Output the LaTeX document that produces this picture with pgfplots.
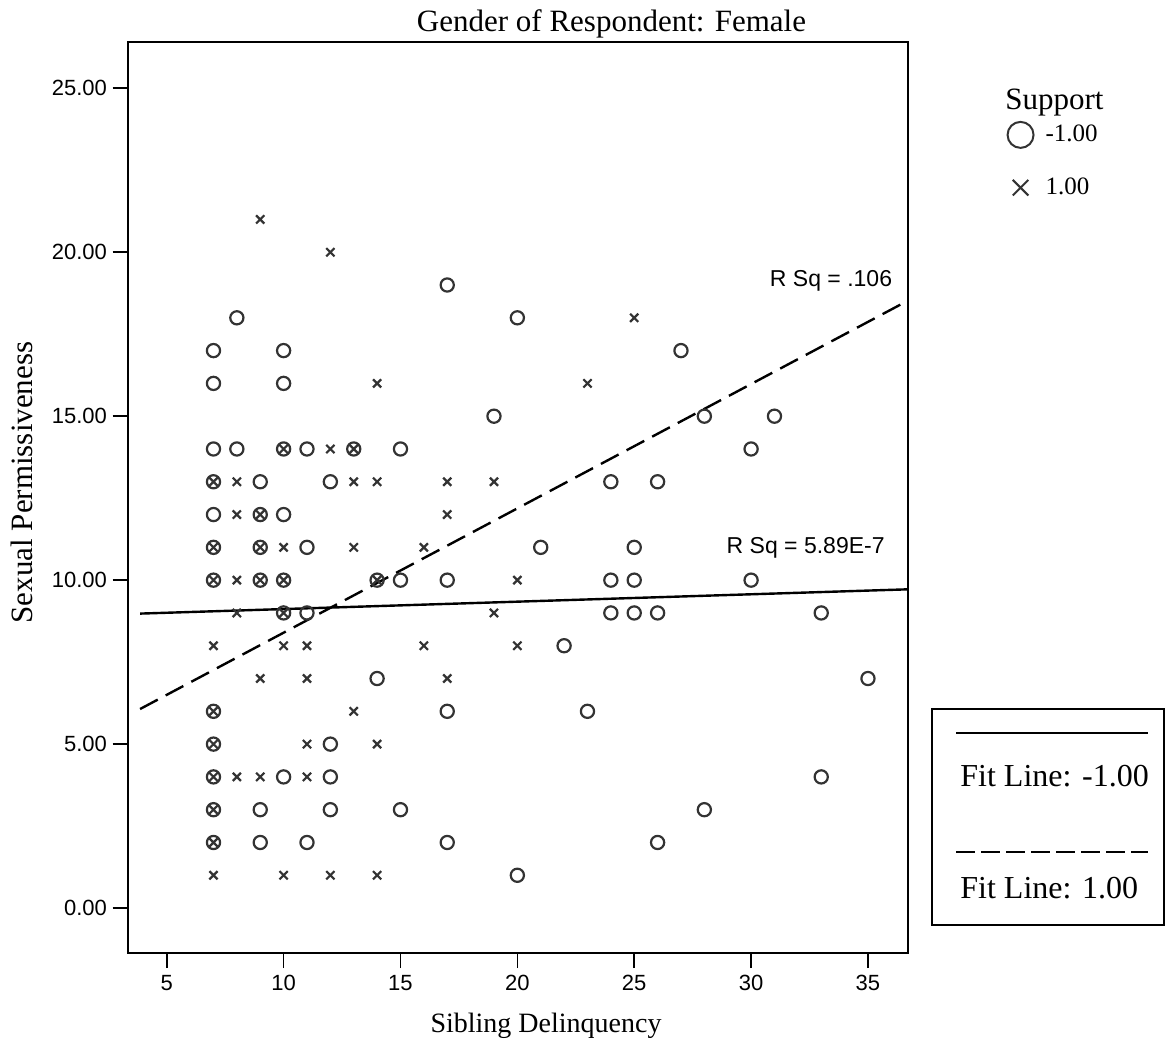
\documentclass[border=0pt]{standalone}
\usepackage{fontspec}
\setmainfont{Liberation Serif}
\newfontfamily\arial{Liberation Sans}
\usepackage{pgfplots}
\pgfplotsset{compat=1.18}
\definecolor{mk}{HTML}{333333}
\pgfplotsset{onemark/.style={legend image code/.code={\draw[##1] plot coordinates {(0pt,0pt)};}}}

% Support = -1.00 (circles)
\pgfplotstableread{
x y
8 18
20 18
17 19
7 17
10 17
27 17
7 16
10 16
19 15
28 15
31 15
7 14
8 14
10 14
11 14
13 14
15 14
30 14
7 13
9 13
12 13
24 13
26 13
7 12
9 12
10 12
7 11
9 11
11 11
21 11
25 11
7 10
9 10
10 10
14 10
15 10
17 10
24 10
25 10
30 10
10 9
11 9
24 9
25 9
26 9
33 9
22 8
14 7
35 7
7 6
17 6
23 6
7 5
12 5
7 4
10 4
12 4
33 4
7 3
9 3
12 3
15 3
28 3
7 2
9 2
11 2
17 2
26 2
20 1
}\tabneg

% Support = 1.00 (crosses)
\pgfplotstableread{
x y
9 21
12 20
25 18
14 16
23 16
10 14
12 14
13 14
7 13
8 13
13 13
14 13
17 13
19 13
8 12
9 12
17 12
7 11
9 11
10 11
13 11
16 11
7 10
8 10
9 10
10 10
14 10
20 10
8 9
10 9
19 9
7 8
10 8
11 8
16 8
20 8
9 7
11 7
17 7
7 6
13 6
7 5
11 5
14 5
7 4
8 4
9 4
11 4
7 3
7 2
7 1
10 1
12 1
14 1
}\tabpos

\begin{document}
\begin{tikzpicture}
\begin{axis}[
  at={(0pt,0pt)}, anchor=south west,
  width=390pt, height=455.65pt, scale only axis,
  xmin=3.33, xmax=36.7, ymin=-1.37, ymax=26.42,
  xtick={5,10,...,35}, ytick={0,5,...,25},
  scaled ticks=false,
  tick pos=left, tick align=outside,
  major tick length=7.5pt,
  axis line style={line width=0.85pt},
  every tick/.style={line width=0.85pt, black},
  /pgf/number format/assume math mode=true,
  tick label style={font=\arial\fontsize{11}{13}\selectfont},
  y tick label style={/pgf/number format/fixed, /pgf/number format/fixed zerofill, /pgf/number format/precision=2, inner sep=0pt, xshift=-2.7pt},
  x tick label style={inner sep=0pt, yshift=-3.5pt},
  legend style={draw=none, fill=none, at={(axis description cs:1.128,0.912)}, anchor=north west,
    inner sep=0pt, outer sep=0pt, nodes={inner sep=0pt}, column sep=6pt, row sep=15pt,
    font=\fontsize{12.5}{15}\selectfont},
  legend cell align=left,
]
\addplot[only marks, mark=o, mark size=3.3pt, mk, line width=1.1pt, forget plot] table {\tabneg};
\addplot[only marks, mark=x, mark size=2.9pt, mk, line width=1.1pt, forget plot] table {\tabpos};
% fit lines
\addplot[black, line width=1.2pt, forget plot] coordinates {(3.86,8.98) (36.7,9.72)};
\addplot[black, line width=1.2pt, dash pattern=on 10pt off 4.5pt, forget plot] coordinates {(3.86,6.07) (36.7,18.52)};
\node[anchor=west, font=\arial\fontsize{11.5}{13}\selectfont, inner sep=0pt] at (axis cs:30.79,19.13) {R Sq = .106};
\node[anchor=west, font=\arial\fontsize{11.5}{13}\selectfont, inner sep=0pt] at (axis cs:28.94,10.99) {R Sq = 5.89E-7};
% legend
\addlegendimage{only marks, mark=o, mark size=6.5pt, mk, line width=1pt, onemark}
\addlegendentry{-1.00}
\addlegendimage{only marks, mark=x, mark size=5.5pt, mk, line width=1pt, onemark}
\addlegendentry{1.00}
\end{axis}
% titles and labels
\node[anchor=base, font=\fontsize{15.5}{18}\selectfont] at (241.9pt,460.65pt) {Gender of Respondent: Female};
\node[font=\fontsize{14}{17}\selectfont] at (209.15pt,-36.5pt) {Sibling Delinquency};
\node[font=\fontsize{15.5}{18}\selectfont, rotate=90] at (-52.85pt,235.25pt) {Sexual Permissiveness};
\node[font=\fontsize{15.5}{18}\selectfont] at (463.4pt,425pt) {Support};
% fit line legend box
\draw[line width=1pt] (402.15pt,14pt) rectangle (518.15pt,122pt);
\draw[line width=1.2pt] (414.15pt,110pt) -- (510.15pt,110pt);
\node[anchor=west, inner sep=0pt, font=\fontsize{16}{19}\selectfont] at (416.15pt,88.5pt) {Fit Line: -1.00};
\draw[line width=1.2pt, dash pattern=on 9.5pt off 3pt] (414.15pt,50.5pt) -- (510.15pt,50.5pt);
\node[anchor=west, inner sep=0pt, font=\fontsize{16}{19}\selectfont] at (416.15pt,32.5pt) {Fit Line: 1.00};
\pgfresetboundingbox
\useasboundingbox (-63.85pt,-48.5pt) rectangle (519.65pt,476.5pt);
\end{tikzpicture}
\end{document}
